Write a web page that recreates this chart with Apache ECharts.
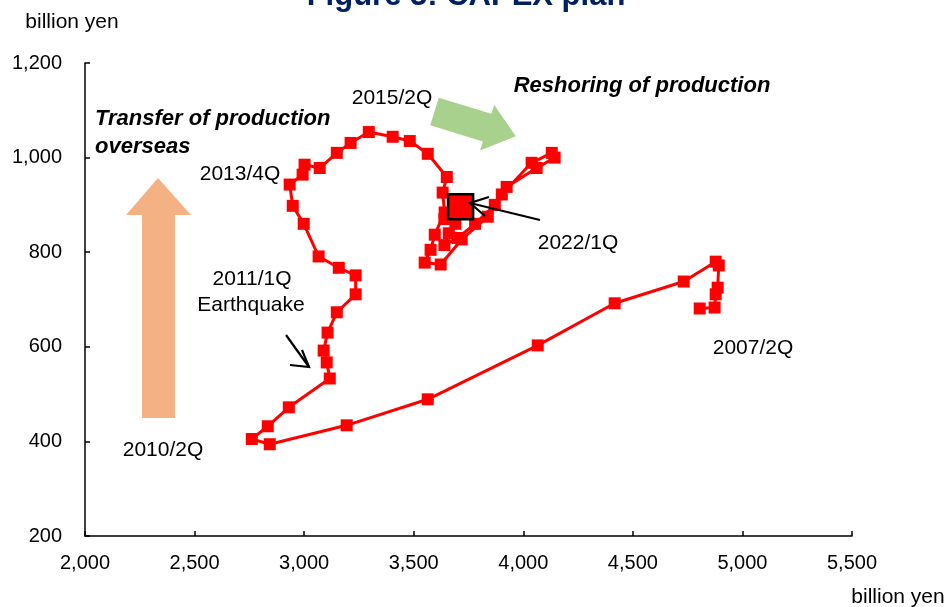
<!DOCTYPE html>
<html>
<head>
<meta charset="utf-8">
<script src="https://cdn.jsdelivr.net/npm/echarts/dist/echarts.min.js"></script>
<style>
  html, body { margin: 0; padding: 0; background: #ffffff; }
  #chart { width: 948px; height: 607px; }
</style>
</head>
<body>
<div id="chart"></div>
<script>
// Quarterly path, 2007/2Q to 2022/1Q (billion yen)
const quarters = [
  '2007/2Q','2007/3Q','2007/4Q','2008/1Q','2008/2Q','2008/3Q','2008/4Q',
  '2009/1Q','2009/2Q','2009/3Q','2009/4Q','2010/1Q','2010/2Q','2010/3Q','2010/4Q',
  '2011/1Q','2011/2Q','2011/3Q','2011/4Q','2012/1Q','2012/2Q','2012/3Q','2012/4Q',
  '2013/1Q','2013/2Q','2013/3Q','2013/4Q','2014/1Q','2014/2Q','2014/3Q','2014/4Q',
  '2015/1Q','2015/2Q','2015/3Q','2015/4Q','2016/1Q','2016/2Q','2016/3Q','2016/4Q',
  '2017/1Q','2017/2Q','2017/3Q','2017/4Q','2018/1Q','2018/2Q','2018/3Q','2018/4Q',
  '2019/1Q','2019/2Q','2019/3Q','2019/4Q','2020/1Q','2020/2Q','2020/3Q','2020/4Q',
  '2021/1Q','2021/2Q','2021/3Q','2021/4Q','2022/1Q'
];
const xValues = [
  4805, 4873, 4878, 4887, 4892, 4878, 4732,
  4417, 4066, 3564, 3194, 2843, 2761, 2834, 2930,
  3117, 3103, 3089, 3107, 3149, 3235, 3235, 3158,
  3066, 2998, 2948, 2934, 2993, 3002, 3071, 3149,
  3212, 3295, 3404, 3482, 3564, 3651, 3632, 3641,
  3596, 3577, 3550, 3623, 3719, 3838, 3902, 4038,
  4130, 4143, 4061, 3924, 3870, 3780, 3700, 3640,
  3660, 3690, 3640, 3700, 3714
];
const yValues = [
  681, 683, 711, 725, 772, 780, 738,
  692, 603, 489, 434, 394, 405, 432, 472,
  533, 567, 592, 630, 673, 711, 751, 767,
  791, 860, 898, 943, 964, 985, 978, 1010,
  1031, 1054, 1044, 1035, 1008, 959, 926, 884,
  837, 805, 778, 774, 827, 875, 922, 989,
  1010, 1000, 978, 938, 900, 860, 830, 815,
  840, 860, 870, 885, 896
];
const xTickValues = [2000, 2500, 3000, 3500, 4000, 4500, 5000, 5500];
const yTickValues = [200, 400, 600, 800, 1000, 1200];
const latestQuarter = '2022/1Q';

const FONT = '"Liberation Sans", Arial, sans-serif';

const seriesData = quarters.map((q, i) => {
  const item = { name: q, value: [xValues[i], yValues[i]] };
  if (q === latestQuarter) {
    item.symbolSize = 25;
    item.itemStyle = { color: '#ff0000', borderColor: '#000000', borderWidth: 2.5 };
  }
  return item;
});

function label(text, x, y, opts) {
  return {
    type: 'text', x: x, y: y, z: 50,
    style: Object.assign({
      text: text, fill: '#000000', font: '21px ' + FONT,
      align: 'center', verticalAlign: 'middle'
    }, opts || {})
  };
}

// block arrow along an angle (degrees, clockwise from +x)
function blockArrow(tx, ty, angleDeg, shaftLen, shaftHalf, headLen, headHalf, color) {
  const a = angleDeg * Math.PI / 180;
  const dx = Math.cos(a), dy = Math.sin(a);
  const nx = -dy, ny = dx;
  const p = (along, across) => [tx + dx * along + nx * across, ty + dy * along + ny * across];
  return {
    type: 'polygon', z: 5,
    shape: { points: [
      p(0, -shaftHalf), p(shaftLen, -shaftHalf), p(shaftLen, -headHalf),
      p(shaftLen + headLen, 0), p(shaftLen, headHalf), p(shaftLen, shaftHalf), p(0, shaftHalf)
    ] },
    style: { fill: color }
  };
}

function lineArrow(x1, y1, x2, y2, arm1, arm2) {
  const st = { stroke: '#000000', lineWidth: 2.2, fill: null };
  return [
    { type: 'polyline', z: 40, shape: { points: [[x1, y1], [x2, y2]] }, style: st },
    { type: 'polyline', z: 40, shape: { points: [arm1, [x2, y2], arm2] }, style: st }
  ];
}

const chart = echarts.init(document.getElementById('chart'), null, { renderer: 'canvas' });

const option = {
  animation: false,
  backgroundColor: '#ffffff',
  textStyle: { fontFamily: FONT },
  grid: { left: 85, right: 96, top: 63, bottom: 71, containLabel: false },
  xAxis: {
    type: 'value',
    min: xTickValues[0], max: xTickValues[xTickValues.length - 1],
    interval: xTickValues[1] - xTickValues[0],
    splitLine: { show: false },
    axisLine: { show: true, onZero: false, lineStyle: { color: '#000000', width: 1.5 } },
    axisTick: { show: true, inside: true, length: 5, lineStyle: { color: '#000000', width: 1.5 } },
    axisLabel: {
      color: '#000000', fontSize: 20, fontFamily: FONT, margin: 17,
      formatter: v => v.toLocaleString('en-US')
    }
  },
  yAxis: {
    type: 'value',
    min: yTickValues[0], max: yTickValues[yTickValues.length - 1],
    interval: yTickValues[1] - yTickValues[0],
    splitLine: { show: false },
    axisLine: { show: true, onZero: false, lineStyle: { color: '#000000', width: 1.5 } },
    axisTick: { show: true, inside: true, length: 5, lineStyle: { color: '#000000', width: 1.5 } },
    axisLabel: {
      color: '#000000', fontSize: 20, fontFamily: FONT, margin: 23,
      formatter: v => v.toLocaleString('en-US')
    }
  },
  series: [{
    type: 'line',
    data: seriesData,
    showSymbol: true,
    showAllSymbol: true,
    symbol: 'rect',
    symbolSize: 12,
    lineStyle: { color: '#ff0000', width: 3 },
    itemStyle: { color: '#ff0000' },
    z: 20
  }],
  graphic: [
    // title (runs off the top edge)
    label('Figure 3: CAPEX plan', 466, -4, { font: 'bold 31px ' + FONT, fill: '#002060' }),
    // axis units
    label('billion yen', 72, 22),
    label('billion yen', 898, 597),
    // direction arrows
    {
      type: 'polygon', z: 5,
      shape: { points: [[142, 418], [175, 418], [175, 215], [191, 215], [158, 178], [126, 215], [142, 215]] },
      style: { fill: '#f4b183' }
    },
    blockArrow(434.5, 111.5, 17, 55, 14.5, 30, 24, '#a9d18e'),
    label('Transfer of production', 95, 119, { font: 'italic bold 22px ' + FONT, align: 'left' }),
    label('overseas', 95, 147, { font: 'italic bold 22px ' + FONT, align: 'left' }),
    label('Reshoring of production', 642, 86, { font: 'italic bold 22px ' + FONT }),
    // quarter annotations
    label('2015/2Q', 392, 98),
    label('2013/4Q', 240, 174),
    label('2011/1Q', 252, 279),
    label('Earthquake', 251, 305),
    label('2010/2Q', 163, 450),
    label('2022/1Q', 578, 243),
    label('2007/2Q', 753, 348),
    ...lineArrow(286, 335, 309, 367, [302, 350], [290, 365]),
    ...lineArrow(540, 220, 470, 203, [489, 197], [485, 216])
  ]
};

chart.setOption(option);
</script>
</body>
</html>
